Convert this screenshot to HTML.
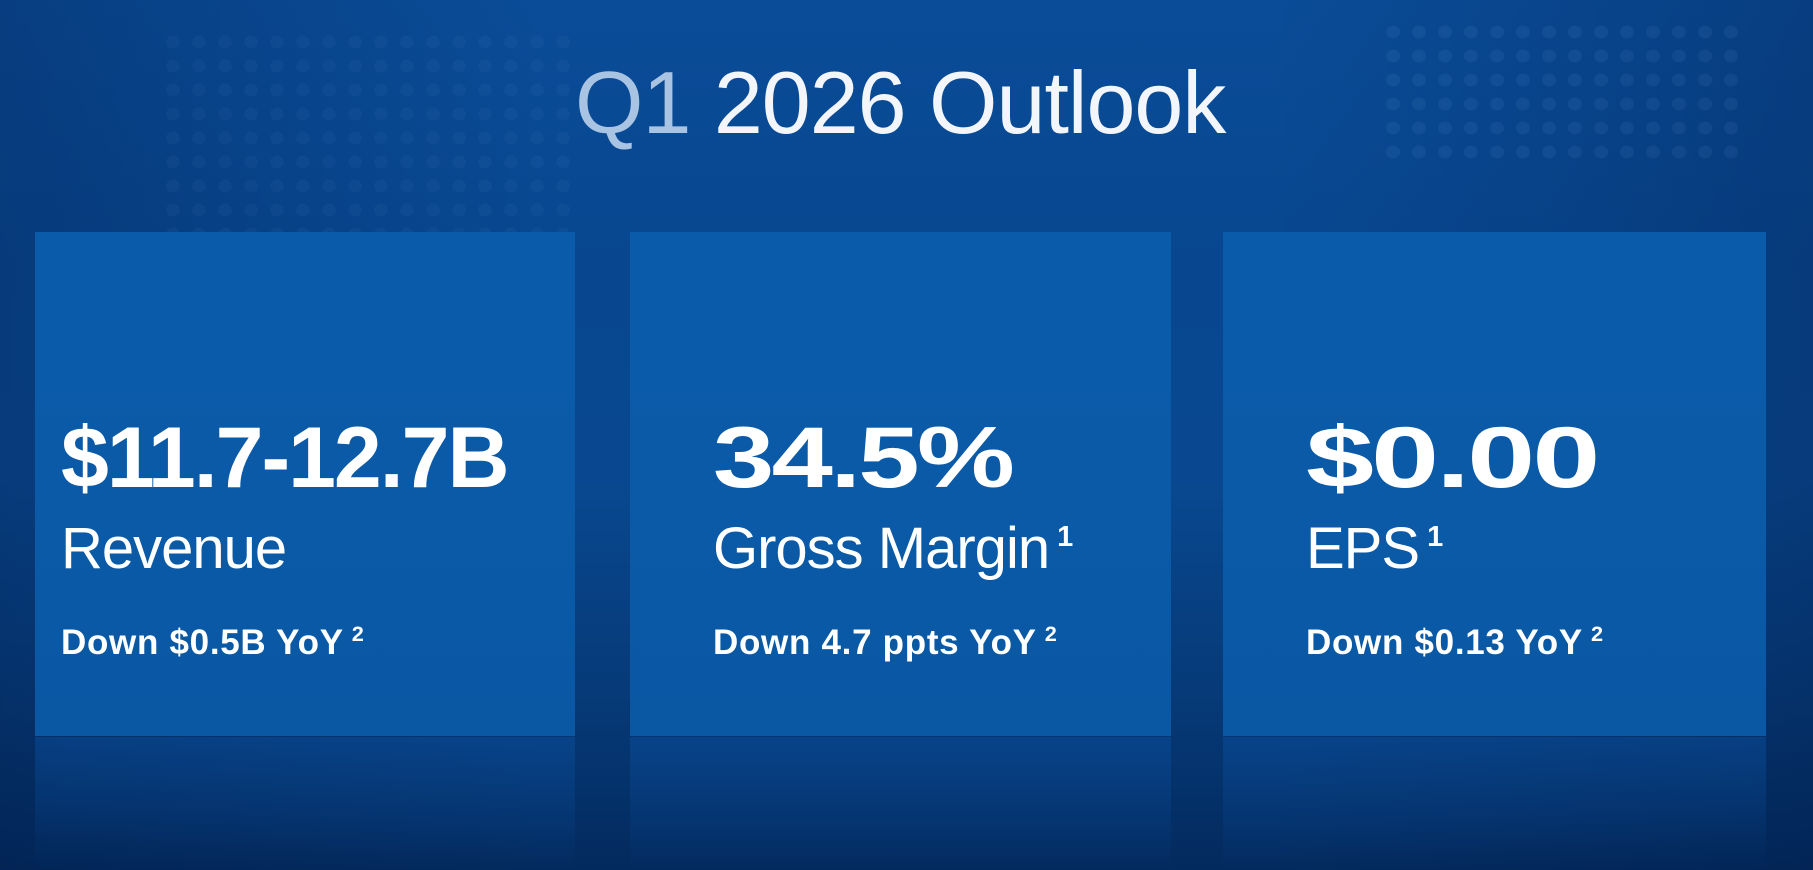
<!DOCTYPE html>
<html><head><meta charset="utf-8"><style>
html,body{margin:0;padding:0}
body{width:1813px;height:870px;overflow:hidden;position:relative;font-family:"Liberation Sans",sans-serif;color:#fff;
background:linear-gradient(180deg,#0a4c98 0%,#084790 30%,#094890 55%,#063a78 80%,#032a5e 100%);}
.bgl{position:absolute;inset:0;background:linear-gradient(90deg,rgba(0,20,60,.25) 0%,rgba(0,0,0,0) 30%,rgba(0,0,0,0) 70%,rgba(0,20,60,.25) 100%)}
.dots{position:absolute;background-image:radial-gradient(rgba(120,170,230,.09) 35%,transparent 40%);background-size:26px 24px}
.title{position:absolute;left:575px;top:52px;font-size:88px;letter-spacing:-1px;white-space:nowrap;color:#f2f6fb}
.title span{color:#a9c4e2}
.card{position:absolute;top:232px;height:504px;width:540px;background:linear-gradient(180deg,#0a5cab 0%,#0a58a4 100%);}
.big{position:absolute;left:26px;top:177px;font-size:86px;font-weight:bold;letter-spacing:-2px;white-space:nowrap;transform-origin:0 50%}
.lab{position:absolute;left:26px;top:283px;font-size:58px;letter-spacing:-1px;white-space:nowrap}
.sub{position:absolute;left:26px;top:389px;font-size:35px;font-weight:bold;letter-spacing:0.7px;white-space:nowrap}
.c2 .big,.c2 .lab,.c2 .sub,.c3 .big,.c3 .lab,.c3 .sub{left:83px}
sup{font-size:0.5em;vertical-align:0.75em;font-weight:bold;margin-left:8px}
.sub sup{font-size:0.62em;vertical-align:0.6em}
.refl{position:absolute;top:737px;height:133px;background:linear-gradient(180deg,rgba(10,80,160,.5),rgba(3,40,90,0))}
</style></head><body>
<div class="bgl"></div>
<div class="dots" style="left:160px;top:30px;width:420px;height:420px;opacity:.6"></div>
<div class="dots" style="left:1380px;top:20px;width:360px;height:140px"></div>
<div class="refl" style="left:35px;width:540px"></div>
<div class="refl" style="left:630px;width:541px"></div>
<div class="refl" style="left:1223px;width:543px"></div>
<div class="title"><span>Q1</span> 2026 Outlook</div>
<div class="card" style="left:35px">
  <div class="big">$11.7-12.7B</div>
  <div class="lab">Revenue</div>
  <div class="sub">Down $0.5B YoY<sup>2</sup></div>
</div>
<div class="card c2" style="left:630px;width:541px">
  <div class="big" style="transform:scaleX(1.28)">34.5%</div>
  <div class="lab">Gross Margin<sup>1</sup></div>
  <div class="sub">Down 4.7 ppts YoY<sup>2</sup></div>
</div>
<div class="card c3" style="left:1223px;width:543px">
  <div class="big" style="transform:scaleX(1.42)">$0.00</div>
  <div class="lab">EPS<sup>1</sup></div>
  <div class="sub">Down $0.13 YoY<sup>2</sup></div>
</div>
</body></html>
